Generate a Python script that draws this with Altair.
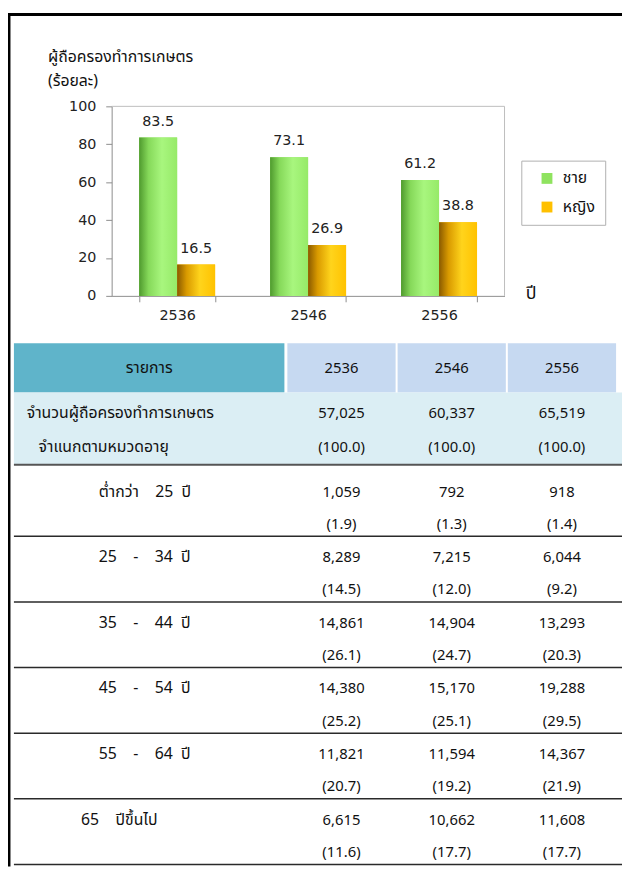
import altair as alt
import pandas as pd

# ---------------- data ----------------
years = ["2536", "2546", "2556"]
sexes = ["ชาย", "หญิง"]
male_pct = [83.5, 73.1, 61.2]
female_pct = [16.5, 26.9, 38.8]

total_counts = [57025, 60337, 65519]
total_pcts = [100.0, 100.0, 100.0]

age_groups = ["ต่ำกว่า 25 ปี", "25 - 34 ปี", "35 - 44 ปี", "45 - 54 ปี", "55 - 64 ปี", "65 ปีขึ้นไป"]
age_labels = [
    "ต่ำกว่า\u00a0\u00a0\u00a0\u00a025\u00a0\u00a0ปี",
    "25\u00a0\u00a0\u00a0\u00a0-\u00a0\u00a0\u00a0\u00a034\u00a0\u00a0ปี",
    "35\u00a0\u00a0\u00a0\u00a0-\u00a0\u00a0\u00a0\u00a044\u00a0\u00a0ปี",
    "45\u00a0\u00a0\u00a0\u00a0-\u00a0\u00a0\u00a0\u00a054\u00a0\u00a0ปี",
    "55\u00a0\u00a0\u00a0\u00a0-\u00a0\u00a0\u00a0\u00a064\u00a0\u00a0ปี",
    "65\u00a0\u00a0\u00a0\u00a0ปีขึ้นไป",
]
counts_2536 = [1059, 8289, 14861, 14380, 11821, 6615]
counts_2546 = [792, 7215, 14904, 15170, 11594, 10662]
counts_2556 = [918, 6044, 13293, 19288, 14367, 11608]
pct_2536 = [1.9, 14.5, 26.1, 25.2, 20.7, 11.6]
pct_2546 = [1.3, 12.0, 24.7, 25.1, 19.2, 17.7]
pct_2556 = [1.4, 9.2, 20.3, 29.5, 21.9, 17.7]

header_label = "รายการ"
total_label_1 = "จำนวนผู้ถือครองทำการเกษตร"
total_label_2 = "จำแนกตามหมวดอายุ"
y_title = ["ผู้ถือครองทำการเกษตร", "(ร้อยละ)"]
x_title = "ปี"

# ---------------- tables ----------------
bar_df = pd.DataFrame({
    "year": years * 2,
    "sex": [sexes[0]] * 3 + [sexes[1]] * 3,
    "value": male_pct + female_pct,
})
total_df = pd.DataFrame({"year": years, "count": total_counts, "pct": total_pcts})
rows = []
for yr, cs, ps in zip(years, [counts_2536, counts_2546, counts_2556], [pct_2536, pct_2546, pct_2556]):
    for g, lab, c, p in zip(age_groups, age_labels, cs, ps):
        rows.append({"group": g, "label": lab, "year": yr, "count": c, "pct": p})
age_df = pd.DataFrame(rows)
group_df = pd.DataFrame({"group": age_groups, "label": age_labels})
one = pd.DataFrame({"k": [0]})

W, H = 622, 864
THAI = "Tahoma, 'Noto Sans Thai', Garuda, Loma, Kinnari, 'Noto Sans', sans-serif"
NUM = "'DejaVu Sans', Verdana, sans-serif"
TNUM = "Tahoma, 'Noto Sans', sans-serif"
TFS = 16

green_grad = {"gradient": "linear", "x1": 0, "x2": 1, "y1": 0, "y2": 0, "stops": [
    {"offset": 0, "color": "#4f9a2e"}, {"offset": 0.25, "color": "#86d95a"},
    {"offset": 0.6, "color": "#a8f67e"}, {"offset": 1, "color": "#96ea68"}]}
orange_grad = {"gradient": "linear", "x1": 0, "x2": 1, "y1": 0, "y2": 0, "stops": [
    {"offset": 0, "color": "#8a5a00"}, {"offset": 0.25, "color": "#d99a00"},
    {"offset": 0.6, "color": "#ffd41c"}, {"offset": 1, "color": "#ffc200"}]}

# ---------------- bar chart ----------------
x_bar = alt.X("year:N", scale=alt.Scale(domain=years, range=[105, 503], paddingInner=0.42, paddingOuter=0.21),
              axis=alt.Axis(orient="bottom", offset=-(H - 286), title=x_title, titleX=524, titleY=-2,
                            titleAlign="left", titleBaseline="middle", titleFont=THAI, titleFontSize=18,
                            titleFontWeight="normal", titleColor="#111", labelAngle=0, labelFont=NUM,
                            labelFontSize=14.5, labelColor="#222", labelPadding=7, tickSize=6,
                            tickBand="extent", domainColor="#8c8c8c", tickColor="#8c8c8c"))
y_bar = alt.Y("value:Q", scale=alt.Scale(domain=[0, 100], range=[286, 94], nice=False),
              axis=alt.Axis(orient="left", offset=-105, values=[0, 20, 40, 60, 80, 100], title=y_title,
                            titleAngle=0, titleX=-65, titleY=36, titleAlign="left", titleBaseline="top",
                            titleLineHeight=24, titleFont=THAI, titleFontSize=TFS, titleFontWeight="normal",
                            titleColor="#111", labelFont=NUM, labelFontSize=14.5, labelColor="#222",
                            labelPadding=10, tickSize=6, domainColor="#8c8c8c", tickColor="#8c8c8c",
                            grid=False))
x_off = alt.XOffset("sex:N", scale=alt.Scale(domain=sexes, paddingInner=0, paddingOuter=0))

frame_top = alt.Chart(one).mark_rule(color="#bdbdbd").encode(
    x=alt.value(105), x2=alt.value(503), y=alt.value(94))
frame_right = alt.Chart(one).mark_rule(color="#bdbdbd").encode(
    x=alt.value(503), y=alt.value(94), y2=alt.value(286))

# flat bars (carry the legend), covered by the shaded bars
bars_flat = alt.Chart(bar_df).mark_bar().encode(
    x=x_bar, xOffset=x_off, y=y_bar,
    color=alt.Color("sex:N", scale=alt.Scale(domain=sexes, range=["#8fe35f", "#ffc000"]),
                    legend=alt.Legend(orient="none", legendX=520, legendY=149, title=None,
                                      direction="vertical", strokeColor="#b0b0b0", fillColor="white",
                                      padding=10, symbolType="square", symbolSize=121, symbolOffset=8,
                                      symbolStrokeWidth=0, symbolOpacity=1, labelOffset=8, rowPadding=13,
                                      labelFont=THAI, labelFontSize=TFS, labelColor="#111")),
)
bars = alt.Chart(bar_df).mark_bar().encode(
    x=x_bar, xOffset=x_off, y=y_bar,
    fill=alt.condition(alt.datum.sex == sexes[0], alt.value(green_grad), alt.value(orange_grad)),
)
bar_labels = alt.Chart(bar_df).mark_text(font=NUM, fontSize=14.5, dy=-16, baseline="middle", color="#222").encode(
    x=x_bar, xOffset=x_off, y=y_bar, text=alt.Text("value:Q", format=".1f"))

bar_chart = alt.layer(frame_top, frame_right, bars_flat, bars, bar_labels)

# ---------------- table ----------------
x_tab = alt.X("year:N", scale=alt.Scale(domain=years, range=[283, 616], paddingInner=0.018, paddingOuter=0),
              axis=None)
grp_scale = alt.Scale(domain=age_groups, range=[463, 862], paddingInner=0, paddingOuter=0)

hdr_label_rect = alt.Chart(one).mark_rect(color="#5fb4ca").encode(
    x=alt.value(6), x2=alt.value(280), y=alt.value(334), y2=alt.value(384))
hdr_year_rect = alt.Chart(total_df).mark_rect(color="#c6d9f1").encode(
    x=x_tab, y=alt.value(334), y2=alt.value(384))
hdr_label_text = alt.Chart(one).mark_text(text=header_label, font=THAI, fontSize=TFS, color="#111").encode(
    x=alt.value(143), y=alt.value(359))
hdr_year_text = alt.Chart(total_df).mark_text(font=TNUM, fontSize=15, color="#111").encode(
    x=x_tab, y=alt.value(359), text="year:N")

total_rect = alt.Chart(one).mark_rect(color="#dbeef4").encode(
    x=alt.value(6), x2=alt.value(622), y=alt.value(384), y2=alt.value(457))
total_text1 = alt.Chart(one).mark_text(text=total_label_1, font=THAI, fontSize=TFS, align="left", color="#111").encode(
    x=alt.value(19), y=alt.value(405))
total_text2 = alt.Chart(one).mark_text(text=total_label_2, font=THAI, fontSize=TFS, align="left", color="#111").encode(
    x=alt.value(31), y=alt.value(439))
total_num = alt.Chart(total_df).mark_text(font=TNUM, fontSize=15, color="#111").encode(
    x=x_tab, y=alt.value(405), text=alt.Text("count:Q", format=",d"))
total_pct = alt.Chart(total_df).transform_calculate(
    ptxt='"(" + format(datum.pct, ".1f") + ")"').mark_text(font=TNUM, fontSize=15, color="#111").encode(
    x=x_tab, y=alt.value(439), text="ptxt:N")
total_line = alt.Chart(one).mark_rule(color="#555555", strokeWidth=2).encode(
    x=alt.value(6), x2=alt.value(622), y=alt.value(457))

age_num = alt.Chart(age_df).mark_text(font=TNUM, fontSize=15, color="#111").encode(
    x=x_tab, y=alt.Y("group:N", scale=grp_scale, axis=None, bandPosition=0.32),
    text=alt.Text("count:Q", format=",d"))
age_pct = alt.Chart(age_df).transform_calculate(
    ptxt='"(" + format(datum.pct, ".1f") + ")"').mark_text(font=TNUM, fontSize=15, color="#111").encode(
    x=x_tab, y=alt.Y("group:N", scale=grp_scale, axis=None, bandPosition=0.81), text="ptxt:N")
age_lab_a = alt.Chart(group_df).transform_filter(alt.datum.group != age_groups[-1]).mark_text(
    font=THAI, fontSize=TFS, align="left", color="#111").encode(
    x=alt.value(92), y=alt.Y("group:N", scale=grp_scale, axis=None, bandPosition=0.32), text="label:N")
age_lab_b = alt.Chart(group_df).transform_filter(alt.datum.group == age_groups[-1]).mark_text(
    font=THAI, fontSize=TFS, align="left", color="#111").encode(
    x=alt.value(74), y=alt.Y("group:N", scale=grp_scale, axis=None, bandPosition=0.32), text="label:N")
age_lines = alt.Chart(group_df).mark_rule(color="#2a2a2a", strokeWidth=1.5).encode(
    x=alt.value(6), x2=alt.value(622), y=alt.Y("group:N", scale=grp_scale, axis=None, bandPosition=1))

table = alt.layer(hdr_label_rect, hdr_year_rect, hdr_label_text, hdr_year_text, total_rect,
                  total_text1, total_text2, total_num, total_pct, total_line,
                  age_num, age_pct, age_lab_a, age_lab_b, age_lines)

frame_l = alt.Chart(one).mark_rule(color="black", strokeWidth=3).encode(
    x=alt.value(1), y=alt.value(0), y2=alt.value(H))
frame_t = alt.Chart(one).mark_rule(color="black", strokeWidth=3).encode(
    x=alt.value(0), x2=alt.value(W), y=alt.value(1))

chart = alt.layer(bar_chart, table, frame_l, frame_t).resolve_scale(
    x="independent", y="independent"
).properties(
    width=W, height=H, padding=0, autosize=alt.AutoSizeParams(type="none"),
    background="white"
).configure_view(stroke=None)

chart.save("out.html", embed_options={"renderer": "svg", "actions": False})
